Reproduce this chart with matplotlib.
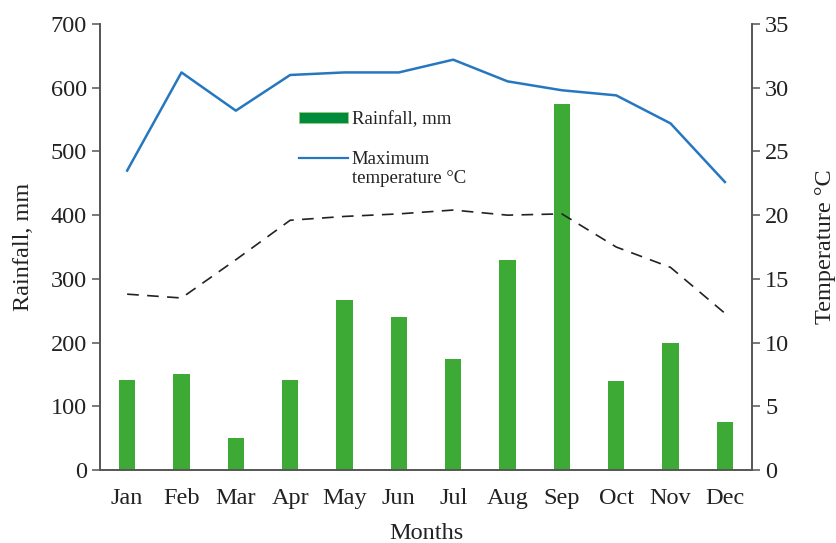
import numpy as np
import matplotlib
matplotlib.use('Agg')
from matplotlib import pyplot as plt
from matplotlib.patches import Patch
from matplotlib.lines import Line2D
from matplotlib.legend_handler import HandlerLine2D

months = ['Jan', 'Feb', 'Mar', 'Apr', 'May', 'Jun', 'Jul', 'Aug', 'Sep', 'Oct', 'Nov', 'Dec']
rainfall = [142, 150, 50, 141, 267, 240, 175, 330, 575, 139, 200, 76]
max_temp = [23.5, 31.2, 28.2, 31.0, 31.2, 31.2, 32.2, 30.5, 29.8, 29.4, 27.2, 22.6]
min_temp = [13.8, 13.5, 16.5, 19.6, 19.9, 20.1, 20.4, 20.0, 20.1, 17.5, 15.9, 12.3]

plt.rcParams['font.family'] = ['Liberation Serif', 'DejaVu Serif']


# legend line sits next to the first text row, not the middle of the label
class TopLine(HandlerLine2D):
    def create_artists(self, legend, orig_handle, xdescent, ydescent,
                       width, height, fontsize, trans):
        arts = super().create_artists(legend, orig_handle, xdescent, ydescent,
                                      width, height, fontsize, trans)
        for a in arts:
            a.set_ydata(np.asarray(a.get_ydata()) + 0.62 * fontsize)
        return arts


fig = plt.figure(figsize=(8.36, 5.43), dpi=100)
ax = fig.add_axes([0.1196, 0.1344, 0.78, 0.8214])
ax2 = ax.twinx()

x = np.arange(len(months))
ax.bar(x, rainfall, width=0.3, color='#3caa35', zorder=2)
ax2.plot(x, max_temp, color='#2677c0', lw=1.8)
ax2.plot(x, min_temp, color='#222222', lw=1.2, dashes=(7, 5))

ax.set_xlim(-0.5, 11.5)
ax.set_ylim(0, 700)
ax2.set_ylim(0, 35)
ax.set_yticks(range(0, 701, 100))
ax2.set_yticks(range(0, 36, 5))
ax.set_xticks(x)
ax.set_xticklabels(months)

for a in (ax, ax2):
    a.spines['top'].set_visible(False)
    for s in ('left', 'right', 'bottom'):
        a.spines[s].set_color('#555555')
        a.spines[s].set_linewidth(1.2)
    a.tick_params(labelsize=17.5, color='#555555', length=6, width=1.1, labelcolor='#222222')
ax.tick_params(axis='x', length=0, pad=13)

ax.set_ylabel('Rainfall, mm', fontsize=17.5, color='#222222', labelpad=12)
ax2.set_ylabel('Temperature °C', fontsize=17.5, color='#222222', labelpad=18)
ax.set_xlabel('Months', fontsize=17.5, color='#222222', labelpad=10)

line_handle = Line2D([0], [0], color='#2677c0', lw=1.6)
handles = [Patch(facecolor='#008a3c', edgecolor='#9ccc7c', lw=0.6), line_handle]
labels = ['Rainfall, mm', 'Maximum\ntemperature °C']
leg = ax2.legend(handles, labels, loc='upper left', bbox_to_anchor=(0.28, 0.842),
                 frameon=False, fontsize=13.5, handlelength=2.6, handleheight=0.55,
                 labelspacing=1.23, handletextpad=0.2,
                 handler_map={line_handle: TopLine()})
for t in leg.get_texts():
    t.set_color('#222222')
    t.set_linespacing(1.1)

fig.savefig('out.png', dpi=100)
